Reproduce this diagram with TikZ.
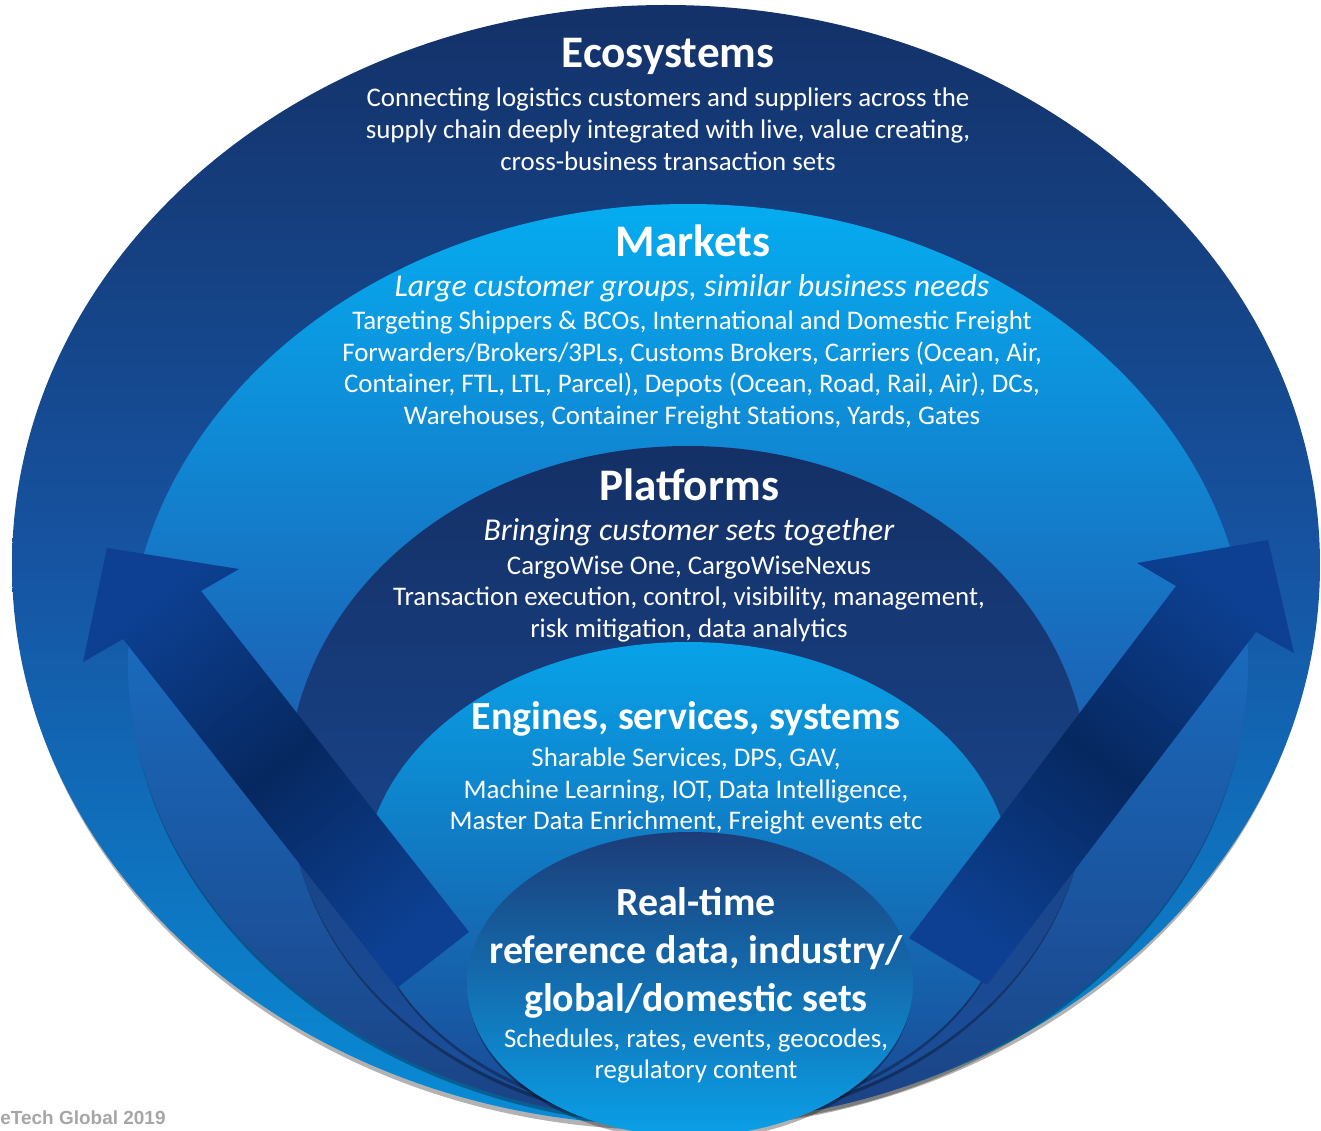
\documentclass[tikz,border=0pt]{standalone}
\usepackage{fontspec}
\setmainfont{Carlito}
\newfontfamily\footfont{Liberation Sans}
\usepackage{tikz}
\usetikzlibrary{positioning}

\definecolor{ecotop}{RGB}{20,49,104}
\definecolor{ecomid}{RGB}{22,84,162}
\definecolor{ecobot}{RGB}{9,140,214}
\definecolor{mkttop}{RGB}{5,172,240}
\definecolor{mktmid}{RGB}{26,104,186}
\definecolor{mktbot}{RGB}{27,66,132}
\definecolor{plftop}{RGB}{20,48,102}
\definecolor{plfbot}{RGB}{28,80,158}
\definecolor{engtop}{RGB}{8,162,232}
\definecolor{engbot}{RGB}{28,70,146}
\definecolor{rtmtop}{RGB}{28,60,120}
\definecolor{rtmbot}{RGB}{10,160,232}
\definecolor{arrowblue}{RGB}{13,64,146}
\definecolor{arrowdark}{RGB}{6,40,96}
\definecolor{footgray}{RGB}{166,166,166}

\begin{document}
\begin{tikzpicture}[x=0.02cm, y=-0.02cm,
    ringshadow/.style={fill=black, opacity=.3},
    title/.style={text=white, font=\bfseries\fontsize{25.7}{30}\selectfont, align=center, inner sep=0pt},
    subtitle/.style={title, font=\bfseries\fontsize{22.7}{27.2}\selectfont},
    lead/.style={text=white, font=\itshape\fontsize{18.1}{21}\selectfont, align=center, inner sep=0pt},
    body/.style={text=white, font=\fontsize{15.3}{18.1}\selectfont, align=center, inner sep=0pt},
    bigarrow/.style={top color=arrowblue, bottom color=arrowblue, middle color=arrowdark}]
  \useasboundingbox (0,0) rectangle (1321,1131);

  % nested rings, outermost first
  \path [ringshadow] (666,570) ellipse (652 and 560);
  \path [top color=ecotop, bottom color=ecobot, middle color=ecomid]
    (666,565) ellipse (654 and 560);
  \path [ringshadow] (688,667) ellipse (559 and 459);
  \path [top color=mkttop, bottom color=mktbot, middle color=mktmid]
    (688,663) ellipse (560 and 459);
  \path [ringshadow] (688,787) ellipse (399 and 337);
  \path [top color=plftop, bottom color=plfbot]
    (688,783) ellipse (400 and 337);
  \path [ringshadow] (688,884) ellipse (323 and 238);
  \path [top color=engtop, bottom color=engbot]
    (688,880) ellipse (324 and 238);

  % growth arrows
  \path [bigarrow, shading angle=38]
    (107,548) -- (239,569) -- (201,591) -- (469,932) -- (397,988)
    -- (123,639) -- (83,662) -- cycle;
  \path [bigarrow, shading angle=-37]
    (1268,540) -- (1294,653) -- (1256,632) -- (987,985) -- (909,938)
    -- (1176,586) -- (1137,563) -- cycle;

  \path [ringshadow] (690,988) ellipse (222 and 152);
  \path [top color=rtmtop, bottom color=rtmbot]
    (690,984) ellipse (223 and 152);

  % texts
  \node (eco) [title] at (668,56) {Ecosystems};
  \node (ecotext) [body] at (668,129) {Connecting logistics customers and suppliers across the\\
    supply chain deeply integrated with live, value creating,\\
    cross-business transaction sets};

  \node (mkt) [title] at (693,241) {Markets};
  \node (mktlead) [lead] at (692,288) {Large customer groups, similar business needs};
  \node (mkttext) [body] at (692,370) {Targeting Shippers \& BCOs, International and Domestic Freight\\
    Forwarders/Brokers/3PLs, Customs Brokers, Carriers (Ocean, Air,\\
    Container, FTL, LTL, Parcel), Depots (Ocean, Road, Rail, Air), DCs,\\
    Warehouses, Container Freight Stations, Yards, Gates};

  \node (plf) [title] at (689,485) {Platforms};
  \node (plflead) [lead] at (689,532) {Bringing customer sets together};
  \node (plftext) [body] at (689,599) {CargoWise One, CargoWiseNexus\\
    Transaction execution, control, visibility, management,\\
    risk mitigation, data analytics};

  \node (eng) [subtitle] at (686,719) {Engines, services, systems};
  \node (engtext) [body] at (686,791) {Sharable Services, DPS, GAV,\\
    Machine Learning, IOT, Data Intelligence,\\
    Master Data Enrichment, Freight events etc};

  \node (rtm) [subtitle] at (696,953) {Real-time\\
    reference data, industry/\\
    global/domestic sets};
  \node (rtmtext) [body] at (696,1056) {Schedules, rates, events, geocodes,\\
    regulatory content};

  \node (foot) [anchor=west, inner sep=0pt, text=footgray,
    font=\footfont\bfseries\fontsize{10.8}{12}\selectfont] at (0,1118) {eTech Global 2019};
\end{tikzpicture}
\end{document}
